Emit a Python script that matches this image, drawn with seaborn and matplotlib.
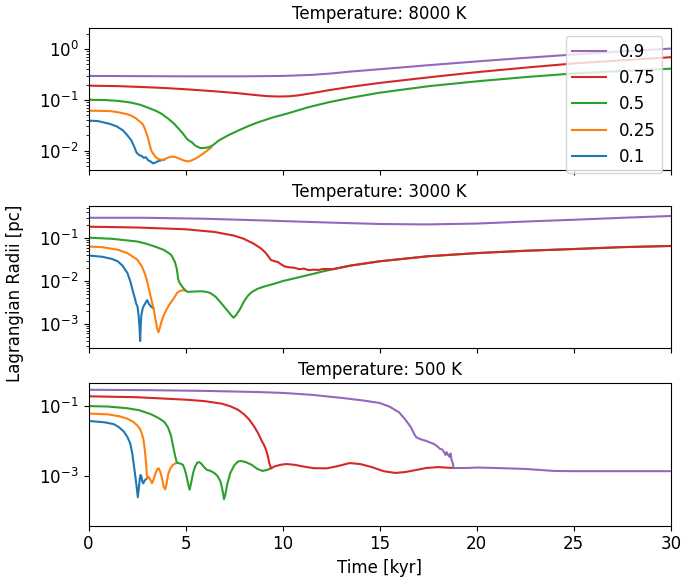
import matplotlib
matplotlib.use("Agg")
import matplotlib.pyplot as plt
from matplotlib.ticker import FixedLocator, NullLocator
import seaborn as sns
import pandas as pd

plt.rcParams["font.size"] = 12

mass_fractions = ["0.1", "0.25", "0.5", "0.75", "0.9"]
line_colors = ["C0", "C1", "C2", "C3", "C4"]
temperatures = ["8000 K", "3000 K", "500 K"]

# ---- T = 8000 K ----
t8000_01 = [0, 0.5, 1.1, 1.45, 1.77, 2.0, 2.2, 2.35, 2.47, 2.55, 2.65, 2.72, 2.85, 2.95,
            3.06, 3.2, 3.32, 3.45, 3.55, 3.66, 3.8, 3.9]
r8000_01 = [0.039, 0.038, 0.0335, 0.030, 0.025, 0.020, 0.016, 0.012, 0.0092, 0.0085,
            0.0080, 0.0079, 0.0072, 0.0074, 0.0065, 0.0061, 0.0056, 0.0058, 0.0061,
            0.0063, 0.0065, 0.0066]
t8000_025 = [0, 0.6, 1.1, 1.5, 1.9, 2.2, 2.45, 2.65, 2.8, 2.9, 3.0, 3.06, 3.15, 3.23,
             3.35, 3.45, 3.6, 3.83, 4.0, 4.2, 4.34, 4.5, 4.7, 4.9, 5.12, 5.3, 5.5, 5.7,
             5.9, 6.1, 6.32]
r8000_025 = [0.061, 0.0605, 0.060, 0.057, 0.053, 0.049, 0.043, 0.037, 0.033, 0.027,
             0.021, 0.018, 0.013, 0.010, 0.0085, 0.0075, 0.0068, 0.0065, 0.0070, 0.0075,
             0.0076, 0.0074, 0.0069, 0.0064, 0.0061, 0.0064, 0.0069, 0.0077, 0.0087,
             0.0099, 0.0115]
t8000_05 = [0, 0.8, 1.55, 2.2, 2.7, 3.1, 3.5, 3.8, 4.12, 4.4, 4.64, 4.85, 5.07, 5.2, 5.32,
            5.5, 5.75, 6.0, 6.18, 6.4, 6.7, 7.2, 7.7, 8.2, 8.73, 9.5, 10.27, 11.3, 12.4,
            13.7, 15, 17.5, 20, 22.5, 25, 27.5, 30]
r8000_05 = [0.100, 0.099, 0.095, 0.088, 0.079, 0.069, 0.060, 0.052, 0.042, 0.034, 0.027,
            0.022, 0.017, 0.0155, 0.0146, 0.0125, 0.0112, 0.0113, 0.0116, 0.0127, 0.0157,
            0.020, 0.0246, 0.030, 0.036, 0.045, 0.054, 0.071, 0.090, 0.113, 0.138, 0.185,
            0.231, 0.28, 0.33, 0.37, 0.41]
t8000_075 = [0, 1.5, 3, 4, 5.15, 6.5, 7.7, 8.5, 9.2, 9.8, 10.3, 10.8, 11.5, 12.4, 13.5,
             15, 16.5, 18, 20, 22.5, 25, 27.5, 30]
r8000_075 = [0.19, 0.186, 0.177, 0.17, 0.16, 0.147, 0.135, 0.125, 0.118, 0.116, 0.117,
             0.122, 0.135, 0.155, 0.18, 0.215, 0.25, 0.29, 0.35, 0.43, 0.52, 0.60, 0.69]
t8000_09 = [0, 5, 8, 10, 11.5, 12.5, 13.5, 15, 17.5, 20, 22.5, 25, 27.5, 30]
r8000_09 = [0.295, 0.29, 0.29, 0.295, 0.31, 0.33, 0.36, 0.40, 0.48, 0.57, 0.67, 0.78,
            0.90, 1.02]

# ---- T = 3000 K ----
t3000_01 = [0, 0.7, 1.2, 1.5, 1.75, 2.0, 2.15, 2.3, 2.4, 2.45, 2.52, 2.58, 2.63, 2.66,
            2.69, 2.72, 2.8, 2.9, 3.02, 3.1, 3.2, 3.35]
r3000_01 = [0.0395, 0.037, 0.033, 0.029, 0.023, 0.0155, 0.010, 0.0055, 0.0038, 0.0030,
            0.0026, 0.0016, 0.0008, 0.0004, 0.0009, 0.0016, 0.0024, 0.0029, 0.0036,
            0.0030, 0.0026, 0.0023]
t3000_025 = [0, 0.7, 1.5, 2.0, 2.5, 2.75, 2.9, 3.0, 3.15, 3.25, 3.35, 3.45, 3.53, 3.6,
             3.67, 3.75, 3.85, 4.0, 4.2, 4.4, 4.55, 4.7, 4.85, 5.0]
r3000_025 = [0.064, 0.062, 0.054, 0.045, 0.032, 0.022, 0.015, 0.0108, 0.0055, 0.0035,
             0.0023, 0.0013, 0.0008, 0.00064, 0.0008, 0.0011, 0.0015, 0.0021, 0.0030,
             0.0040, 0.0052, 0.0059, 0.0061, 0.0060]
t3000_05 = [0, 1.2, 2.0, 2.5, 3.0, 3.5, 3.9, 4.2, 4.3, 4.45, 4.55, 4.62, 4.7, 4.86, 5.0,
            5.12, 5.4, 5.8, 6.1, 6.3, 6.55, 6.8, 7.1, 7.3, 7.47, 7.6, 7.8, 8.0, 8.2, 8.4,
            8.7, 9.1, 9.58, 10.0, 10.5, 11.0, 11.5, 12.0, 12.6, 13.5, 15, 17.5, 20, 22.5,
            25, 27.5, 30]
r3000_05 = [0.103, 0.097, 0.089, 0.084, 0.074, 0.062, 0.053, 0.043, 0.038, 0.028, 0.019,
            0.011, 0.0090, 0.0071, 0.0060, 0.0056, 0.0057, 0.0058, 0.0056, 0.0052, 0.0043,
            0.0032, 0.0022, 0.0017, 0.0014, 0.0016, 0.0022, 0.0033, 0.0045, 0.0055,
            0.0066, 0.0076, 0.0087, 0.0100, 0.0113, 0.0128, 0.0145, 0.0165, 0.019, 0.023,
            0.029, 0.038, 0.045, 0.051, 0.056, 0.062, 0.066]
t3000_075 = [0, 2.5, 5, 6.5, 7.5, 8.0, 8.5, 8.88, 9.1, 9.3, 9.4, 9.6, 9.75, 9.9, 10.1,
             10.35, 10.6, 10.85, 11.1, 11.35, 11.6, 11.85, 12.1, 12.6, 13.5, 15, 17.5, 20,
             22.5, 25, 27.5, 30]
r3000_075 = [0.186, 0.178, 0.162, 0.140, 0.115, 0.097, 0.075, 0.058, 0.047, 0.036, 0.031,
             0.029, 0.028, 0.025, 0.022, 0.021, 0.0205, 0.019, 0.0195, 0.018, 0.0185,
             0.0182, 0.0192, 0.019, 0.023, 0.029, 0.038, 0.045, 0.051, 0.056, 0.062, 0.066]
t3000_09 = [0, 3, 6, 9, 12, 15, 17.4, 20, 22.5, 25, 27.5, 30]
r3000_09 = [0.30, 0.30, 0.285, 0.26, 0.235, 0.215, 0.21, 0.22, 0.245, 0.27, 0.30, 0.33]

# ---- T = 500 K ----
t500_01 = [0, 0.8, 1.3, 1.55, 1.8, 2.0, 2.15, 2.25, 2.32, 2.4, 2.47, 2.54, 2.6, 2.65,
           2.68, 2.72, 2.77, 2.82, 2.87, 2.92, 3.0]
r500_01 = [0.037, 0.034, 0.030, 0.025, 0.019, 0.013, 0.0085, 0.0045, 0.0024, 0.0011,
           0.00055, 0.00025, 0.0005, 0.0009, 0.00107, 0.0010, 0.0007, 0.00062, 0.00072,
           0.00078, 0.00085]
t500_025 = [0, 1.0, 1.6, 2.0, 2.3, 2.5, 2.65, 2.75, 2.83, 2.9, 2.95, 3.0, 3.02, 3.06, 3.1,
            3.18, 3.27, 3.35, 3.45, 3.55, 3.62, 3.7, 3.78, 3.87, 3.95, 4.02, 4.1, 4.2,
            4.35, 4.55]
r500_025 = [0.060, 0.057, 0.050, 0.043, 0.035, 0.028, 0.022, 0.016, 0.011, 0.0055, 0.0029,
            0.0012, 0.00087, 0.0009, 0.00095, 0.0008, 0.00063, 0.0008, 0.0012, 0.0016,
            0.00166, 0.0013, 0.0009, 0.0005, 0.00042, 0.0006, 0.0011, 0.0016, 0.0021,
            0.0024]
t500_05 = [0, 1.0, 2.0, 2.6, 3.2, 3.6, 3.9, 4.1, 4.25, 4.35, 4.45, 4.55, 4.7, 4.86, 4.95,
           5.05, 5.13, 5.21, 5.3, 5.4, 5.5, 5.6, 5.7, 5.8, 5.95, 6.1, 6.3, 6.5, 6.65, 6.8,
           6.9, 6.98, 7.05, 7.15, 7.3, 7.5, 7.7, 7.85, 8.1, 8.4, 8.7, 8.97, 9.2, 9.4]
r500_05 = [0.098, 0.095, 0.085, 0.075, 0.058, 0.045, 0.035, 0.024, 0.014, 0.0075, 0.0040,
           0.0024, 0.0023, 0.0021, 0.0016, 0.0010, 0.0006, 0.00041, 0.0007, 0.0013,
           0.0019, 0.0024, 0.0025, 0.0023, 0.0018, 0.0015, 0.0014, 0.0012, 0.0010,
           0.0007, 0.0004, 0.00022, 0.0003, 0.0006, 0.0012, 0.0020, 0.0026, 0.0027,
           0.0025, 0.0021, 0.0016, 0.0014, 0.0015, 0.00166]
t500_075 = [0, 2.5, 5.1, 6.0, 6.85, 7.3, 7.7, 8.0, 8.27, 8.55, 8.75, 8.9, 9.05, 9.15,
            9.25, 9.3, 9.4, 9.6, 9.9, 10.2, 10.6, 11.0, 11.6, 12.26, 12.8, 13.46, 14.0,
            14.6, 15.2, 15.8, 16.3, 16.9, 17.4, 18.0, 18.8]
r500_075 = [0.186, 0.175, 0.148, 0.135, 0.115, 0.097, 0.077, 0.058, 0.041, 0.025, 0.016,
            0.0107, 0.0075, 0.0055, 0.0035, 0.0025, 0.00166, 0.0019, 0.0021, 0.0022,
            0.0021, 0.0019, 0.00168, 0.00166, 0.0019, 0.00235, 0.0022, 0.0018, 0.00138,
            0.00123, 0.0013, 0.0015, 0.0017, 0.0018, 0.0017]
t500_09 = [0, 3, 6, 8.8, 10, 11.5, 13.1, 14.2, 15.0, 15.5, 16.0, 16.3, 16.6, 16.8, 16.9,
           17.1, 17.4, 17.6, 17.8, 17.9, 18.0, 18.1, 18.2, 18.3, 18.4, 18.45, 18.5, 18.6,
           18.65, 18.7, 18.78, 18.8, 19.5, 20, 21, 22.5, 24, 25, 27.5, 30]
r500_09 = [0.285, 0.278, 0.265, 0.245, 0.232, 0.205, 0.166, 0.14, 0.12, 0.095, 0.065,
           0.042, 0.025, 0.015, 0.0125, 0.0112, 0.0100, 0.0090, 0.0082, 0.0075, 0.0068,
           0.0060, 0.0058, 0.0050, 0.0040, 0.0048, 0.0042, 0.0035, 0.0044, 0.0030,
           0.0022, 0.0017, 0.0017, 0.00175, 0.0017, 0.0016, 0.0014, 0.00138, 0.00138,
           0.00138]

panels = [
    [(t8000_01, r8000_01), (t8000_025, r8000_025), (t8000_05, r8000_05),
     (t8000_075, r8000_075), (t8000_09, r8000_09)],
    [(t3000_01, r3000_01), (t3000_025, r3000_025), (t3000_05, r3000_05),
     (t3000_075, r3000_075), (t3000_09, r3000_09)],
    [(t500_01, r500_01), (t500_025, r500_025), (t500_05, r500_05),
     (t500_075, r500_075), (t500_09, r500_09)],
]
y_limits = [(4.2e-3, 2.65), (2.8e-4, 0.58), (3.9e-5, 0.43)]

fig, axes = plt.subplots(3, 1, sharex=True, figsize=(6.81, 5.86), dpi=100)
fig.subplots_adjust(left=0.130, right=0.985, top=0.953, bottom=0.103, hspace=0.252)

for i, (ax, series) in enumerate(zip(axes, panels)):
    for (t, r), frac, col in zip(series, mass_fractions, line_colors):
        df = pd.DataFrame({"Time": t, "Radius": r})
        sns.lineplot(data=df, x="Time", y="Radius", ax=ax, color=col,
                     label=frac if i == 0 else None, estimator=None, sort=False,
                     linewidth=1.5)
    ax.set_yscale("log")
    ax.set_ylim(*y_limits[i])
    ax.set_xlim(0, 30)
    ax.set_title(f"Temperature: {temperatures[i]}", fontsize=12)
    ax.set_ylabel("")
    ax.set_xlabel("")
    if i != 0 and ax.get_legend() is not None:
        ax.get_legend().remove()

# the coldest run spans many decades: label every other one
axes[2].yaxis.set_major_locator(FixedLocator([1e-3, 1e-1]))
axes[2].yaxis.set_minor_locator(NullLocator())

handles, labels = axes[0].get_legend_handles_labels()
axes[0].legend(handles[::-1], labels[::-1], loc="upper right", fontsize=12)

axes[2].set_xlabel("Time [kyr]")
fig.text(0.022, 0.5, "Lagrangian Radii [pc]", rotation=90, ha="center", va="center",
         fontsize=12)

fig.savefig("out.png", dpi=100)
